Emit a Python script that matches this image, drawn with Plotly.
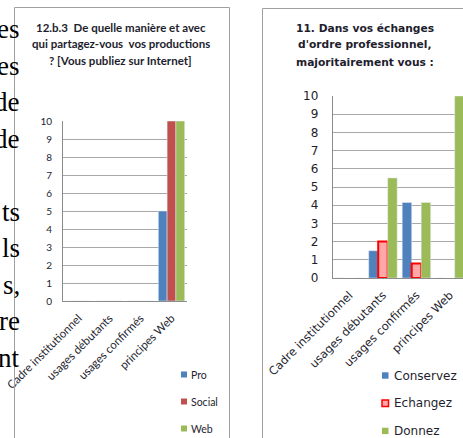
import plotly.graph_objects as go

W, H = 463, 438

# data
categories = ["Cadre institutionnel", "usages débutants", "usages confirmés", "principes Web"]

# 12.b.3 (left chart)
pro = [0, 0, 0, 5]
social = [0, 0, 0, 10]
web = [0, 0, 0, 10]

# 11. (right chart)
conservez = [0, 1.5, 4.15, 0]
echangez = [None, 2, 0.8, None]
donnez = [0, 5.5, 4.15, 10]

# fragments of the document text cut by the left chart
side_text = ["es", "es", "de", "de", "", "ts", "ls", "s,", "re", "nt"]

title_left = ["12.b.3  De quelle manière et avec",
              "qui partagez-vous  vos productions",
              "? [Vous publiez sur Internet]"]
title_right = ["11. Dans vos échanges",
               "d'ordre professionnel,",
               "majoritairement vous :"]

BLUE, RED, GREEN = "#4f81bd", "#c0504d", "#9bbb59"
PINK = "#ffa8a8"
LEFT_FONT = "Lato, sans-serif"
RIGHT_FONT = "DejaVu Sans, sans-serif"
TXT = "#1e1e2e"


def px(x):
    return x / W


def py(y):
    return 1 - y / H


fig = go.Figure()

fig.add_trace(go.Bar(x=categories, y=pro, name="Pro", marker_color=BLUE,
                     xaxis="x", yaxis="y"))
fig.add_trace(go.Bar(x=categories, y=social, name="Social", marker_color=RED,
                     xaxis="x", yaxis="y"))
fig.add_trace(go.Bar(x=categories, y=web, name="Web", marker_color=GREEN,
                     xaxis="x", yaxis="y"))

fig.add_trace(go.Bar(x=categories, y=conservez, name="Conservez", marker_color=BLUE,
                     xaxis="x2", yaxis="y2"))
fig.add_trace(go.Bar(x=categories, y=echangez, name="Echangez", marker_color=PINK,
                     marker_line=dict(color="#ff0000", width=2),
                     xaxis="x2", yaxis="y2"))
fig.add_trace(go.Bar(x=categories, y=donnez, name="Donnez", marker_color=GREEN,
                     xaxis="x2", yaxis="y2"))

fig.update_layout(
    width=W, height=H,
    margin=dict(l=0, r=0, t=0, b=0, autoexpand=False),
    paper_bgcolor="white", plot_bgcolor="white",
    showlegend=False,
    barmode="group", bargap=0.15, bargroupgap=0,
    xaxis=dict(domain=[px(63), px(187)], showline=True, linecolor="#8c8c8c",
               tickangle=-45, ticks="outside", ticklen=5, tickcolor="rgba(0,0,0,0)",
               automargin=False,
               tickfont=dict(family=LEFT_FONT, size=11.5, color=TXT), anchor="y"),
    yaxis=dict(domain=[py(301), py(121)], range=[0, 10], dtick=1,
               showline=True, linecolor="#8c8c8c", gridcolor="#a8a8a8",
               ticks="outside", ticklen=8, tickcolor="rgba(0,0,0,0)",
               automargin=False,
               tickfont=dict(family=LEFT_FONT, size=10, color=TXT), anchor="x"),
    xaxis2=dict(domain=[px(332.7), 1], range=[-0.5, 3.39], showline=True,
                linecolor="#8c8c8c", tickangle=-45, ticks="outside", ticklen=5,
                tickcolor="rgba(0,0,0,0)", automargin=False,
                tickfont=dict(family=RIGHT_FONT, size=11.5, color=TXT), anchor="y2"),
    yaxis2=dict(domain=[py(278), py(96)], range=[0, 10], dtick=1,
                showline=True, linecolor="#8c8c8c", gridcolor="#a8a8a8",
                ticks="outside", ticklen=11, tickcolor="rgba(0,0,0,0)",
                automargin=False,
                tickfont=dict(family=RIGHT_FONT, size=12, color=TXT), anchor="x2"),
)

shapes = []
annotations = []

# chart frames
frame = dict(type="line", xref="paper", yref="paper", line=dict(color="#a0a0a0", width=1))
shapes.append(dict(frame, x0=px(14.5), x1=px(14.5), y0=py(7.5), y1=0))
shapes.append(dict(frame, x0=px(14.5), x1=px(229.5), y0=py(7.5), y1=py(7.5)))
shapes.append(dict(frame, x0=px(229.5), x1=px(229.5), y0=py(7.5), y1=0))
shapes.append(dict(frame, x0=px(262.5), x1=px(262.5), y0=py(8.5), y1=0))
shapes.append(dict(frame, x0=px(262.5), x1=1, y0=py(8.5), y1=py(8.5)))

# document text on the far left
for i, t in enumerate(side_text):
    if not t:
        continue
    base = 38 + 36.5 * i
    annotations.append(dict(text=t, x=px(21.5), y=py(base - 9), xref="paper", yref="paper",
                            xanchor="right", yanchor="middle", showarrow=False,
                            font=dict(family="Liberation Serif, serif", size=27, color="black")))

# titles
for i, t in enumerate(title_left):
    annotations.append(dict(text="<b>%s</b>" % t, x=px(121), y=py(27 + 16.5 * i),
                            xref="paper", yref="paper", xanchor="center", yanchor="middle",
                            showarrow=False, font=dict(family=LEFT_FONT, size=11.5, color=TXT)))
for i, t in enumerate(title_right):
    annotations.append(dict(text="<b>%s</b>" % t, x=px(365), y=py(28 + 17 * i),
                            xref="paper", yref="paper", xanchor="center", yanchor="middle",
                            showarrow=False, font=dict(family=RIGHT_FONT, size=10.7, color=TXT)))

# legends
left_leg = [("Pro", BLUE, None), ("Social", RED, None), ("Web", GREEN, None)]
for i, (name, col, border) in enumerate(left_leg):
    cy = 374.5 + 27 * i
    shapes.append(dict(type="rect", xref="paper", yref="paper", x0=px(181), x1=px(187),
                       y0=py(cy + 3), y1=py(cy - 3), fillcolor=col, line=dict(width=0)))
    annotations.append(dict(text=name, x=px(188.5), y=py(cy), xref="paper", yref="paper",
                            xanchor="left", yanchor="middle", showarrow=False,
                            font=dict(family=LEFT_FONT, size=10.5, color=TXT)))

right_leg = [("Conservez", BLUE, None), ("Echangez", PINK, "#ff0000"), ("Donnez", GREEN, None)]
for i, (name, col, border) in enumerate(right_leg):
    cy = 375.5 + 27.7 * i
    line = dict(color=border, width=1.5) if border else dict(width=0)
    shapes.append(dict(type="rect", xref="paper", yref="paper", x0=px(382), x1=px(388.5),
                       y0=py(cy + 3.2), y1=py(cy - 3.2), fillcolor=col, line=line))
    annotations.append(dict(text=name, x=px(392), y=py(cy), xref="paper", yref="paper",
                            xanchor="left", yanchor="middle", showarrow=False,
                            font=dict(family=RIGHT_FONT, size=12, color=TXT)))

fig.update_layout(shapes=shapes, annotations=annotations)

# the page body keeps its default 8px margin otherwise
fig.write_html("out.html", config={"displayModeBar": False},
               post_script="document.body.style.margin = '0';")
